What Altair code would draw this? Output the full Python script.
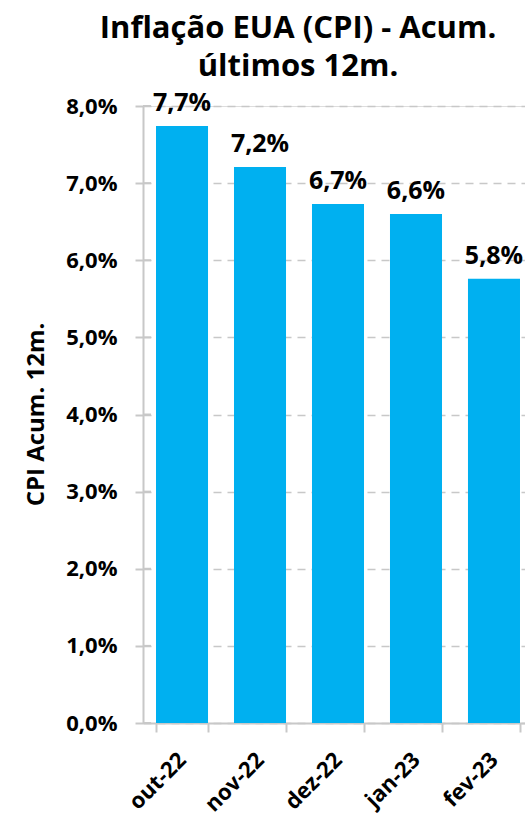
import altair as alt
import pandas as pd

months = ["out-22", "nov-22", "dez-22", "jan-23", "fev-23"]
values = [7.74, 7.21, 6.73, 6.60, 5.76]
y_ticks = [0, 1, 2, 3, 4, 5, 6, 7, 8]

df = pd.DataFrame({"mes": months, "v": values})
tick_df = pd.DataFrame({"t": y_ticks})

FONT = "Open Sans"
fmt = "replace(format(datum.value, '.1f'), '.', ',') + '%'"

x = alt.X(
    "mes:N",
    sort=months,
    scale=alt.Scale(range=[0, 390], paddingInner=0.333, paddingOuter=0.1667),
    axis=alt.Axis(
        title=None,
        labelAngle=-45,
        labelAlign="right",
        labelBaseline="middle",
        labelFont=FONT,
        labelFontSize=22,
        labelFontWeight="bold",
        labelColor="#000000",
        labelPadding=24,
        tickBand="extent",
        tickSize=9,
        tickColor="#c8c8c8",
        tickWidth=2,
        domainColor="#c8c8c8",
        domainWidth=2,
        grid=False,
    ),
)

y_scale = alt.Scale(domain=[0, 8], nice=False)

bars = alt.Chart(df).mark_bar(color="#00B0F0").encode(
    x=x,
    y=alt.Y(
        "v:Q",
        scale=y_scale,
        axis=alt.Axis(
            title="CPI Acum. 12m.",
            titleFont=FONT,
            titleFontSize=24,
            titleFontWeight="bold",
            titleColor="#000000",
            titleAngle=-90,
            titleX=-107,
            titleY=308,
            titleAlign="center",
            titleBaseline="middle",
            values=y_ticks,
            labelExpr=fmt,
            labelFont=FONT,
            labelFontSize=22,
            labelFontWeight="bold",
            labelColor="#000000",
            labelPadding=18,
            tickSize=8,
            tickColor="#c8c8c8",
            tickWidth=2,
            domainColor="#c8c8c8",
            domainWidth=2,
            grid=True,
            gridColor="#c8c8c8",
            gridDash=[8, 6],
            gridWidth=1.5,
        ),
    ),
)

labels = alt.Chart(df).transform_calculate(
    lab="replace(format(datum.v, '.1f'), '.', ',') + '%'"
).mark_text(
    font=FONT, fontSize=25, fontWeight="bold", color="#000000",
    baseline="alphabetic", dy=-15,
).encode(x=x, y=alt.Y("v:Q", scale=y_scale), text="lab:N")

cross = alt.Chart(tick_df).mark_rule(color="#c8c8c8", strokeWidth=2).encode(
    y=alt.Y("t:Q", scale=y_scale),
    x=alt.value(0),
    x2=alt.value(8),
)

chart = alt.layer(bars, cross, labels).properties(
    width=382,
    height=617,
    autosize=alt.AutoSizeParams(type="none"),
    padding={"left": 143, "top": 106, "right": 0, "bottom": 94},
    title=alt.TitleParams(
        text=["Inflação EUA (CPI) - Acum.", "últimos 12m."],
        font=FONT,
        fontSize=31,
        fontWeight="bold",
        color="#000000",
        anchor="middle",
        frame="group",
        dx=-36,
        offset=8,
        lineHeight=38,
    ),
).configure_view(stroke=None).configure(background="#ffffff")

chart.save("out.html", embed_options={"renderer": "svg", "actions": False})
